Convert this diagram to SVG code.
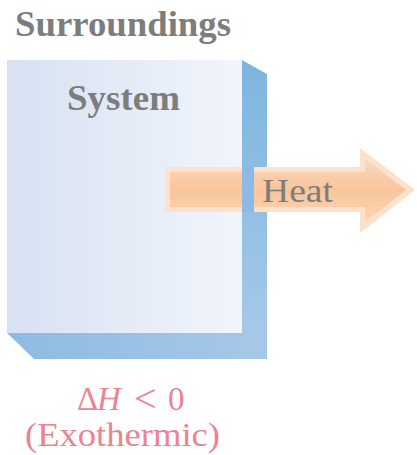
<svg xmlns="http://www.w3.org/2000/svg" width="417" height="455" viewBox="0 0 417 455">
<defs>
<style>
.lbl{font-family:"Liberation Serif","DejaVu Serif",serif;fill:#7d7d7d}
.b{font-weight:bold}
.pink{font-family:"Liberation Serif","DejaVu Serif",serif;fill:#ec8490;font-size:33px}
</style>
<linearGradient id="front" x1="0" y1="0" x2="1" y2="0">
<stop offset="0" stop-color="#d7e1f2"/>
<stop offset="1" stop-color="#f1f5fc"/>
</linearGradient>
<linearGradient id="side" x1="0" y1="0" x2="0" y2="1">
<stop offset="0" stop-color="#7db5df"/>
<stop offset="1" stop-color="#a9caea"/>
</linearGradient>
<linearGradient id="bottom" x1="0" y1="0" x2="1" y2="0">
<stop offset="0" stop-color="#8dbbe2"/>
<stop offset="1" stop-color="#a7c8e8"/>
</linearGradient>
<linearGradient id="arrowIn" x1="0" y1="0" x2="0" y2="1">
<stop offset="0" stop-color="#fbd8bb"/>
<stop offset="0.5" stop-color="#f8c59d"/>
<stop offset="1" stop-color="#fbd5b6"/>
</linearGradient>
</defs>
<rect width="417" height="455" fill="#ffffff"/>
<text class="lbl b" x="15" y="36" font-size="35" textLength="216" lengthAdjust="spacingAndGlyphs">Surroundings</text>
<g id="system">
<rect x="7" y="60" width="235" height="273" fill="url(#front)"/>
<polygon points="242,60 267,74 267,359 242,359" fill="url(#side)"/>
<polygon points="7,333 267,333 267,359 34,359" fill="url(#bottom)"/>
<polygon points="242,333 267,333 267,359 242,359" fill="#a6c7e7"/>
<text class="lbl b" x="67" y="110" font-size="35" textLength="113" lengthAdjust="spacingAndGlyphs">System</text>
</g>
<g id="heat">
<polygon points="165,167 360,167 360,148 415,190 360,233 360,212 165,212" fill="#fde1ca"/>
<polygon points="170,172 365,172 365,159 406,190 365,222 365,207 170,207" fill="url(#arrowIn)"/>
<rect x="242" y="167" width="12" height="45" fill="#8bbbe2"/>
<text class="lbl" x="262" y="202" font-size="33" textLength="71" lengthAdjust="spacingAndGlyphs" fill="#7a7a7a">Heat</text>
</g>
<g id="label">
<text class="pink" y="410"><tspan x="77">Δ</tspan><tspan x="97" font-style="italic">H</tspan><tspan x="134" font-size="40" dy="2">&lt;</tspan><tspan x="168" font-size="33" dy="-2">0</tspan></text>
<text class="pink" x="25" y="446" textLength="195" lengthAdjust="spacingAndGlyphs">(Exothermic)</text>
</g>
</svg>
